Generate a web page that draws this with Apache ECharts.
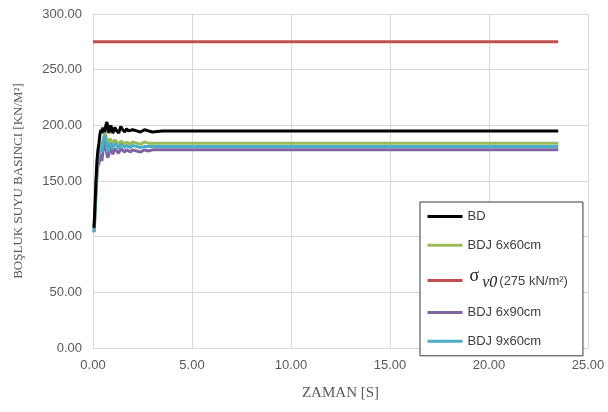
<!DOCTYPE html>
<html>
<head>
<meta charset="utf-8">
<script src="https://cdn.jsdelivr.net/npm/echarts@6/dist/echarts.min.js"></script>
<style>
  html, body { margin: 0; padding: 0; background: #ffffff; }
  #chart { width: 608px; height: 412px; }
</style>
</head>
<body>
<div id="chart"></div>
<script>
// Time samples [s]
var time = [0.05, 0.1, 0.15, 0.2, 0.25, 0.3, 0.35, 0.4, 0.45, 0.5, 0.55, 0.6, 0.65, 0.7, 0.75, 0.8, 0.85, 0.9, 0.95, 1.0,
            1.1, 1.2, 1.3, 1.4, 1.5, 1.6, 1.7, 1.8, 1.9, 2.0, 2.2, 2.4, 2.6, 2.8, 3.0, 3.5, 4.0, 5.0, 6.0, 8.0,
            10.0, 12.0, 15.0, 18.0, 21.0, 23.5];

// Pore water pressure [kN/m²]
var bd = [108, 128, 150, 168, 178, 184, 192, 196, 193, 198, 196, 194, 200, 203, 199, 193, 196, 200, 197, 193,
          198, 195, 193, 199, 196, 194, 197, 195, 194, 196, 195, 194, 196, 195, 194, 195, 195, 195, 195, 195,
          195, 195, 195, 195, 195, 195];
var bdj6x60 = [106, 124, 146, 163, 172, 176, 180, 184, 181, 186, 190, 194, 191, 186, 182, 184, 188, 189, 186, 183,
               187, 185, 182, 186, 185, 183, 185, 184, 183, 185, 184, 183, 185, 184, 184, 184, 184, 184, 184, 184,
               184, 184, 184, 184, 184, 184];
var bdj6x90 = [104, 118, 138, 155, 164, 166, 170, 174, 168, 176, 182, 186, 180, 174, 171, 174, 179, 181, 177, 174,
               179, 178, 175, 179, 178, 176, 178, 177, 176, 178, 177, 176, 178, 177, 178, 178, 178, 178, 178, 178,
               178, 178, 178, 178, 178, 178];
var bdj9x60 = [104, 120, 142, 160, 170, 174, 178, 181, 176, 184, 189, 191, 186, 180, 176, 180, 184, 185, 182, 179,
               184, 182, 179, 183, 182, 180, 182, 181, 180, 182, 181, 180, 181, 181, 181, 181, 181, 181, 181, 181,
               181, 181, 181, 181, 181, 181];

// Initial effective vertical stress σv0
var sigmaTime = [0, 23.5];
var sigmaValue = [275, 275];

var xTicks = [0, 5, 10, 15, 20, 25];
var yTicks = [0, 50, 100, 150, 200, 250, 300];

function pairs(xs, ys) {
  return xs.map(function (x, i) { return [x, ys[i]]; });
}

var sans = '"Liberation Sans", Arial, sans-serif';
var serif = '"Liberation Serif", "Times New Roman", serif';

function lineSeries(name, xs, ys, color, width) {
  return {
    name: name,
    type: 'line',
    data: pairs(xs, ys),
    symbol: 'none',
    smooth: false,
    lineStyle: { color: color, width: width },
    itemStyle: { color: color }
  };
}

var chart = echarts.init(document.getElementById('chart'), null, { renderer: 'canvas' });

chart.setOption({
  backgroundColor: '#ffffff',
  animation: false,
  grid: { left: 93, right: 20, top: 14, bottom: 64 },
  xAxis: {
    type: 'value',
    min: xTicks[0],
    max: xTicks[xTicks.length - 1],
    interval: 5,
    name: 'ZAMAN [S]',
    nameLocation: 'middle',
    nameGap: 38,
    nameTextStyle: { fontFamily: serif, fontSize: 15, color: '#595959' },
    axisLine: { show: true, lineStyle: { color: '#d9d9d9', width: 1 } },
    axisTick: { show: false },
    splitLine: { show: true, lineStyle: { color: '#d9d9d9', width: 1 } },
    axisLabel: {
      fontFamily: sans, fontSize: 13, color: '#595959', margin: 11,
      formatter: function (v) { return v.toFixed(2); }
    }
  },
  yAxis: {
    type: 'value',
    min: yTicks[0],
    max: yTicks[yTicks.length - 1],
    interval: 50,
    name: 'BOŞLUK SUYU BASINCI [KN/M²]',
    nameLocation: 'middle',
    nameGap: 68,
    nameRotate: 90,
    nameTextStyle: { fontFamily: serif, fontSize: 13, color: '#595959' },
    axisLine: { show: true, lineStyle: { color: '#d9d9d9', width: 1 } },
    axisTick: { show: false },
    splitLine: { show: true, lineStyle: { color: '#d9d9d9', width: 1 } },
    axisLabel: {
      fontFamily: sans, fontSize: 13, color: '#595959', margin: 11,
      formatter: function (v) { return v.toFixed(2); }
    }
  },
  legend: {
    orient: 'vertical',
    left: 420,
    top: 202,
    padding: [8, 15, 8, 6],
    itemWidth: 35,
    itemHeight: 14,
    itemGap: 15.7,
    backgroundColor: '#ffffff',
    borderColor: '#3a3a3a',
    borderWidth: 1,
    itemStyle: { opacity: 0 },
    lineStyle: { width: 3 },
    textStyle: {
      fontFamily: sans, fontSize: 13, color: '#404040',
      rich: {
        sg: { fontFamily: serif, fontSize: 18, color: '#202020', padding: [0, 0, 8, 2] },
        sv: { fontFamily: serif, fontSize: 16, fontStyle: 'italic', color: '#202020', padding: [4, 2, 0, 3] },
        sr: { fontFamily: sans, fontSize: 13, color: '#404040', padding: [2, 0, 0, 0] }
      }
    },
    formatter: function (name) {
      if (name === 'sigma') return '{sg|σ}{sv|v0}{sr|(275 kN/m²)}';
      return name;
    },
    data: ['BD', 'BDJ 6x60cm', 'sigma', 'BDJ 6x90cm', 'BDJ 9x60cm']
  },
  series: [
    lineSeries('sigma', sigmaTime, sigmaValue, '#c0504d', 3),
    lineSeries('BDJ 6x90cm', time, bdj6x90, '#8064a2', 3),
    lineSeries('BDJ 6x60cm', time, bdj6x60, '#9bbb59', 3),
    lineSeries('BDJ 9x60cm', time, bdj9x60, '#4bacc6', 3),
    lineSeries('BD', time, bd, '#000000', 3)
  ]
});
</script>
</body>
</html>
